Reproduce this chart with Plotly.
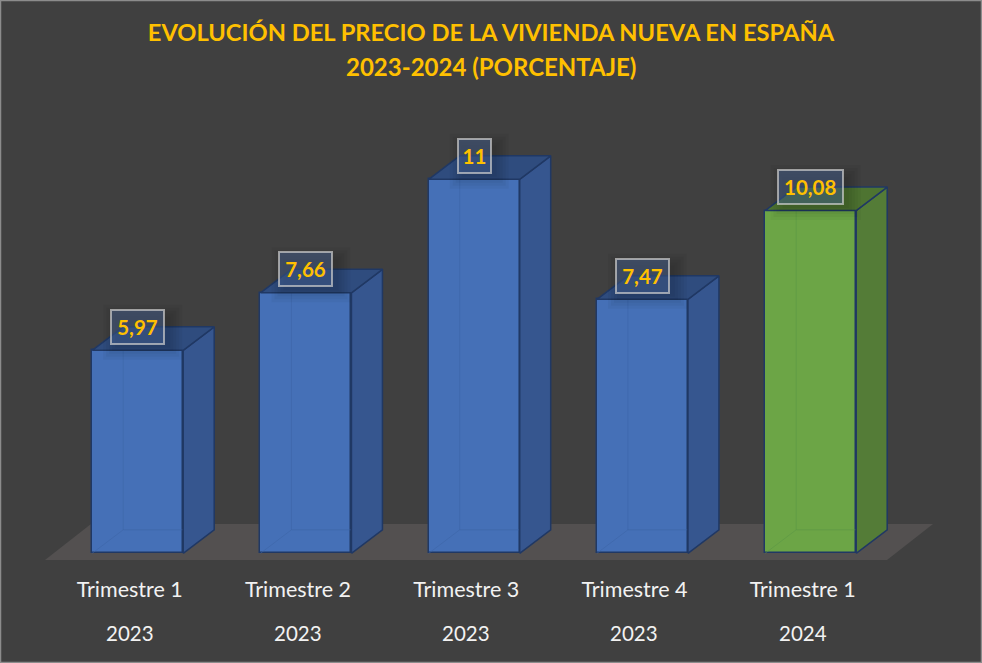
import plotly.graph_objects as go

# --- data ---
quarters = ["Trimestre 1", "Trimestre 2", "Trimestre 3", "Trimestre 4", "Trimestre 1"]
years = ["2023", "2023", "2023", "2023", "2024"]
values = [5.97, 7.66, 11, 7.47, 10.08]
value_labels = ["5,97", "7,66", "11", "7,47", "10,08"]
title_lines = ["EVOLUCIÓN DEL PRECIO DE LA VIVIENDA NUEVA EN ESPAÑA", "2023-2024 (PORCENTAJE)"]

# --- styling / geometry ---
W, H = 982, 663
PX_X, PX_Y = 168.25, 34.0       # pixels per category / per value unit
X0_PX, Y0_PX = 137.7, 553.3     # pixel position of first category / zero
BOTTOM_M = 90
HALF = 45.5 / PX_X
DX, DY = 31.0 / PX_X, 23.5 / PX_Y
LABEL_SHIFT = 8 / PX_X          # category labels sit left of the bars
BLUE = dict(front="#4570B7", side="#36568F", top="#2F4C7E", hidden="rgba(60,100,165,0.55)")
GREEN = dict(front="#6CA546", side="#547C37", top="#4E7431", hidden="rgba(90,150,70,0.55)")
palette = [BLUE, BLUE, BLUE, BLUE, GREEN]
EDGE = "#203864"
BG = "#404040"
FONT = "Lato"
GOLD = "#FFC000"

xs = list(range(len(values)))
fig = go.Figure()

fig.add_trace(go.Bar(
    x=xs, y=values, width=2 * HALF,
    marker=dict(color=[p["front"] for p in palette], line=dict(color=EDGE, width=1.5)),
    hoverinfo="skip", showlegend=False))

for x, v, p in zip(xs, values, palette):
    l, r = x - HALF, x + HALF
    fig.add_trace(go.Scatter(
        x=[l, l + DX, l + DX, None, l + DX, r + DX], y=[0, DY, v + DY, None, DY, DY],
        mode="lines", line=dict(color=p["hidden"], width=1), hoverinfo="skip", showlegend=False))
    fig.add_trace(go.Scatter(
        x=[r, r + DX, r + DX, r, r], y=[0, DY, v + DY, v, 0], mode="lines", fill="toself",
        fillcolor=p["side"], line=dict(color=EDGE, width=1.5), hoverinfo="skip", showlegend=False))
    fig.add_trace(go.Scatter(
        x=[l, l + DX, r + DX, r, l], y=[v, v + DY, v + DY, v, v], mode="lines", fill="toself",
        fillcolor=p["top"], line=dict(color=EDGE, width=1.5), hoverinfo="skip", showlegend=False))


def text_width(t):
    digits = sum(c.isdigit() for c in t)
    return 11.5 * digits + (8.5 if "," in t else 0)


annotations = [
    dict(x=x, y=v + DY, text=f"<b>{t}</b>", showarrow=False, xanchor="center", yanchor="middle",
         width=text_width(t), align="center",
         font=dict(family=FONT, size=20.5, color=GOLD),
         bgcolor="rgba(72,100,150,0.45)", bordercolor="rgba(205,205,205,0.7)", borderwidth=2, borderpad=4)
    for x, v, t in zip(xs, values, value_labels)
]
annotations += [
    dict(x=x - LABEL_SHIFT, y=0, xref="x", yref="paper", text=yr, showarrow=False,
         xanchor="center", yanchor="middle", yshift=-(633 - (H - BOTTOM_M)),
         font=dict(family=FONT, size=20.5, color="#F2F2F2"))
    for x, yr in zip(xs, years)
]
# second title line, at the reference's wider line spacing
annotations.append(dict(
    x=0.5, y=1, xref="paper", yref="paper", text=f"<b>{title_lines[1]}</b>", showarrow=False,
    xanchor="center", yanchor="middle", yshift=-66,
    font=dict(family=FONT, size=24, color=GOLD)))

px2x = lambda px: (px - X0_PX) / PX_X
px2y = lambda py: (Y0_PX - py) / PX_Y
floor = [(45, 560), (91, 524), (933, 524), (887, 560)]
floor_path = "M " + " L ".join(f"{px2x(a):.4f},{px2y(b):.4f}" for a, b in floor) + " Z"

shapes = [dict(type="path", path=floor_path, xref="x", yref="y", layer="below",
               fillcolor="#535050", line=dict(width=0))]
# soft shadow behind each value box
for x, v, t in zip(xs, values, value_labels):
    half_w = (text_width(t) + 12) / 2
    for grow in (1, 4, 7, 10, 13):
        shapes.append(dict(
            type="rect", xref="x", yref="y", layer="above",
            x0=x - (half_w + grow - 6) / PX_X, x1=x + (half_w + grow + 4) / PX_X,
            y0=v + DY - (17 + grow + 3) / PX_Y, y1=v + DY + (17 + grow - 8) / PX_Y,
            fillcolor="rgba(0,0,0,0.035)", line=dict(width=0)))
# picture frame
shapes.append(dict(type="rect", xref="paper", yref="paper",
                   x0=0.5 / W, x1=(W - 0.5) / W,
                   y0=(-BOTTOM_M + 0.5) / (H - BOTTOM_M), y1=(H - BOTTOM_M - 0.5) / (H - BOTTOM_M),
                   fillcolor="rgba(0,0,0,0)", line=dict(color="#8C8C8C", width=1.5)))

fig.update_layout(
    width=W, height=H, autosize=False,
    margin=dict(l=0, r=0, t=0, b=BOTTOM_M, pad=0),
    paper_bgcolor=BG, plot_bgcolor=BG,
    title=dict(text=f"<b>{title_lines[0]}</b>", x=0.5, xanchor="center",
               y=1 - 33 / H, yanchor="middle",
               font=dict(family=FONT, size=23.7, color=GOLD)),
    xaxis=dict(range=[px2x(0), px2x(W)], tickmode="array", tickvals=[x - LABEL_SHIFT for x in xs],
               ticktext=quarters,
               showgrid=False, zeroline=False, showline=False, ticks="", ticklabelstandoff=1,
               tickfont=dict(family=FONT, size=21.5, color="#F2F2F2"), fixedrange=True),
    yaxis=dict(range=[px2y(H - BOTTOM_M), px2y(0)], visible=False, showgrid=False, zeroline=False, fixedrange=True),
    shapes=shapes,
    annotations=annotations,
    showlegend=False,
    bargap=0,
)

fig.write_html("out.html", config=dict(displayModeBar=False),
               post_script="document.body.style.margin='0';document.documentElement.style.overflow='hidden';")
